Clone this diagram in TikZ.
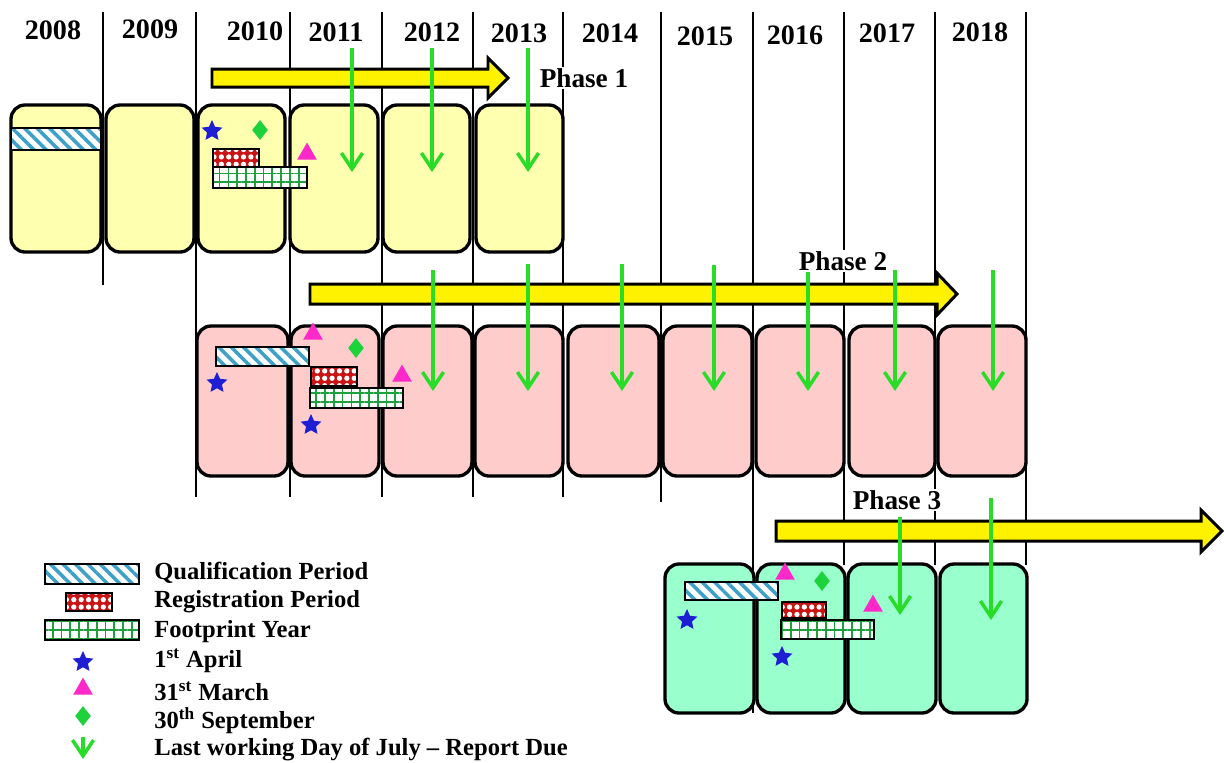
\documentclass[tikz,border=0pt]{standalone}
\usepackage{fontspec}
\setmainfont{Liberation Serif}
\usetikzlibrary{arrows.meta,patterns.meta,shapes.geometric}

\definecolor{phaseone}{RGB}{255,255,176}
\definecolor{phasetwo}{RGB}{255,204,204}
\definecolor{phasethree}{RGB}{153,255,204}
\definecolor{qualblue}{RGB}{60,160,200}
\definecolor{regred}{RGB}{200,20,20}
\definecolor{footgreen}{RGB}{30,160,60}
\definecolor{duegreen}{RGB}{40,220,40}
\definecolor{starblue}{RGB}{30,30,210}
\definecolor{markpink}{RGB}{255,40,200}
\definecolor{diamgreen}{RGB}{30,210,60}

\tikzset{
  yearline/.style={line width=1.2pt},
  yearbox/.style={draw=black, line width=1.9pt, rounded corners=8pt},
  phasearrow/.style={draw=black, line width=1.7pt, fill=yellow, line join=miter},
  dueline/.style={duegreen, line width=2pt, -{Straight Barb[length=9pt,width=12pt]}},
  qualbar/.style={draw=black, line width=1.2pt, preaction={fill=white},
    pattern={Lines[angle=-45,distance=5pt,line width=2pt]}, pattern color=qualblue},
  regbar/.style={draw=black, line width=1.2pt, preaction={fill=regred},
    pattern={Dots[distance=4.2pt,radius=1.5pt]}, pattern color=white},
  footbar/.style={draw=black, line width=1.2pt, preaction={fill=white},
    pattern={Hatch[angle=0,distance=5pt,line width=1pt]}, pattern color=footgreen},
  starmark/.style={star, star points=5, star point ratio=2.1, fill=starblue, inner sep=0pt, minimum size=12.5pt},
  trimark/.style={regular polygon, regular polygon sides=3, fill=markpink, inner sep=0pt, minimum size=13pt},
  diamark/.style={diamond, fill=diamgreen, inner sep=0pt, minimum width=9pt, minimum height=11.5pt},
  yearlabel/.style={font=\fontsize{16}{18}\selectfont\bfseries},
  phaselabel/.style={font=\fontsize{15.5}{18}\selectfont\bfseries, fill=white, inner sep=1pt},
  legendtext/.style={font=\fontsize{14}{16}\selectfont\bfseries, anchor=west, inner sep=0pt}
}

\begin{document}
\begin{tikzpicture}[x=0.02cm, y=-0.02cm]
  \useasboundingbox (0,0) rectangle (1224,762);

  % year columns
  \foreach \x/\b in {103/285,196/497,290/497,382/497,473/497,563/497,661/502,753/713,844/565,935/565,1026/565}
    \draw[yearline] (\x,12) -- (\x,\b);
  \foreach \yr/\x/\y in {2008/53/30,2009/150/29,2010/255/31,2011/336/32,2012/432/32,2013/519/33,2014/610/33,2015/705/36,2016/795/35,2017/887/33,2018/980/32}
    \node[yearlabel] (y\yr) at (\x,\y) {\yr};

  % phase 1
  \draw[phasearrow] (212,69) -- (488,69) -- (488,58) -- (508,78) -- (488,98) -- (488,87) -- (212,87) -- cycle;
  \foreach \a/\b in {11/101,106/194,198/285,290/378,383/470,476/563}
    \draw[yearbox, fill=phaseone] (\a,105) rectangle (\b,252);
  \draw[qualbar] (11,128) rectangle (101,150);
  \draw[regbar] (213,149) rectangle (259,167);
  \draw[footbar] (213,167) rectangle (307,188);
  \node[starmark] (s1a) at (212,131) {};
  \node[diamark] (d1a) at (260,130) {};
  \node[trimark] (t1a) at (307,154) {};
  \foreach \x in {352,432,528}
    \draw[dueline] (\x,48) -- (\x,172);
  \node[phaselabel] (p1) at (584,78) {Phase 1};

  % phase 2
  \draw[phasearrow] (310,284) -- (937,284) -- (937,273) -- (957,294) -- (937,315) -- (937,304) -- (310,304) -- cycle;
  \foreach \a/\b in {197/288,291/379,383/472,475/563,568/659,663/752,756/844,849/935,938/1026}
    \draw[yearbox, fill=phasetwo] (\a,326) rectangle (\b,476);
  \draw[qualbar] (216,347) rectangle (309,366);
  \draw[regbar] (311,367) rectangle (357,386);
  \draw[footbar] (310,388) rectangle (403,408);
  \node[starmark] (s2a) at (217,383) {};
  \node[trimark] (t2a) at (313,334) {};
  \node[diamark] (d2a) at (356,348) {};
  \node[trimark] (t2b) at (402,376) {};
  \node[starmark] (s2b) at (311,425) {};
  \node[phaselabel] (p2) at (843,261) {Phase 2};
  \foreach \x/\t in {433/270,528/264,622/264,714/265,808/272,895/270,993/270}
    \draw[dueline] (\x,\t) -- (\x,391);

  % phase 3
  \draw[phasearrow] (776,521) -- (1201,521) -- (1201,510) -- (1222,531) -- (1201,552) -- (1201,541) -- (776,541) -- cycle;
  \foreach \a/\b in {665/754,757/845,848/936,940/1027}
    \draw[yearbox, fill=phasethree] (\a,564) rectangle (\b,713);
  \draw[qualbar] (685,582) rectangle (778,600);
  \draw[regbar] (782,602) rectangle (826,618);
  \draw[footbar] (781,620) rectangle (874,639);
  \node[starmark] (s3a) at (687,620) {};
  \node[trimark] (t3a) at (785,574) {};
  \node[diamark] (d3a) at (822,581) {};
  \node[trimark] (t3b) at (873,606) {};
  \node[starmark] (s3b) at (782,657) {};
  \node[phaselabel] (p3) at (897,500) {Phase 3};
  \draw[dueline] (900,517) -- (900,615);
  \draw[dueline] (991,498) -- (991,620);

  % legend
  \draw[qualbar] (45,564) rectangle (139,584);
  \draw[regbar] (66,593) rectangle (112,611);
  \draw[footbar] (45,620) rectangle (139,640);
  \node[starmark] (lstar) at (83,662) {};
  \node[trimark] (ltri) at (83,689) {};
  \node[diamark] (ldia) at (83,716) {};
  \draw[dueline] (83,737) -- (83,759);
  \node[legendtext] (lq) at (154,573) {Qualification Period};
  \node[legendtext] (lr) at (154,602) {Registration Period};
  \node[legendtext] (lf) at (154,632) {Footprint Year};
  \node[legendtext] (la) at (154,661) {1\textsuperscript{st} April};
  \node[legendtext] (lm) at (154,691) {31\textsuperscript{st} March};
  \node[legendtext] (ls) at (154,721) {30\textsuperscript{th} September};
  \node[legendtext] (ld) at (154,750) {Last working Day of July -- Report Due};
\end{tikzpicture}
\end{document}
